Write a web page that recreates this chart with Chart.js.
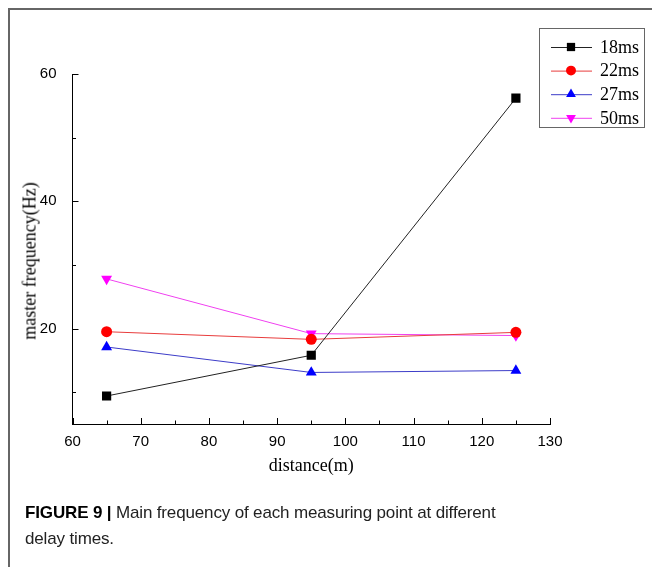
<!DOCTYPE html>
<html>
<head>
<meta charset="utf-8">
<script src="https://cdn.jsdelivr.net/npm/chart.js@4/dist/chart.umd.min.js"></script>
<style>
  html, body { margin: 0; padding: 0; background: #fff; }
  #wrap { position: relative; width: 652px; height: 567px; overflow: hidden; }
  #frame { position: absolute; left: 8px; top: 8px; width: 660px; height: 600px;
           border-top: 2px solid #666; border-left: 2px solid #666; }
  #chart { position: absolute; left: 0; top: 0; }
  #ytitle { position: absolute; left: 30px; top: 261px; width: 0; height: 0; }
  #ytitle span { position: absolute; left: 0; top: 0; white-space: nowrap;
                 transform: translate(-50%, -50%) rotate(-90deg);
                 font-family: "Liberation Serif", "Times New Roman", serif; font-size: 18px; color: #000; }
  #caption { position: absolute; left: 25px; top: 500px; font-family: "Liberation Sans", Arial, sans-serif;
             font-size: 17px; letter-spacing: -0.15px; line-height: 26px; color: #222; }
  #caption b { color: #000; }
</style>
</head>
<body>
<div id="wrap">
  <div id="frame"></div>
  <canvas id="chart" width="652" height="567"></canvas>
  <div id="ytitle"><span>master frequency(Hz)</span></div>
  <div id="caption"><b>FIGURE 9 |</b> Main frequency of each measuring point at different<br>delay times.</div>
</div>
<script>
// data
const distances = [65, 95, 125];
const seriesLabels = ['18ms', '22ms', '27ms', '50ms'];
const freq18 = [9.4, 15.8, 56.2];
const freq22 = [19.5, 18.3, 19.4];
const freq27 = [17.1, 13.1, 13.4];
const freq50 = [27.8, 19.2, 18.9];

const xTickValues = [60, 70, 80, 90, 100, 110, 120, 130];
const xMinorTicks = [65, 75, 85, 95, 105, 115, 125];
const yTickValues = [20, 40, 60];
const yMinorTicks = [10, 30, 50];

const lineColors = ['#222222', '#e83c3c', '#3c3cc8', '#f040f0'];
const pointColors = ['#000000', '#ff0000', '#0000ff', '#ff00ff'];
const pointStyles = ['rect', 'circle', 'triangle', 'triangle'];
const pointRotations = [0, 0, 0, 180];
const pointRadii = [6.5, 5.5, 6.3, 6.3];

function makeSet(i, values) {
  return {
    label: seriesLabels[i],
    data: values.map((v, k) => ({ x: distances[k], y: v })),
    borderColor: lineColors[i],
    borderWidth: 1,
    backgroundColor: pointColors[i],
    pointBackgroundColor: pointColors[i],
    pointBorderColor: pointColors[i],
    pointBorderWidth: 0,
    pointStyle: pointStyles[i],
    pointRotation: pointRotations[i],
    pointRadius: pointRadii[i],
    tension: 0
  };
}

// inward tick marks, like the original plot
const tickPlugin = {
  id: 'inTicks',
  afterDraw(chart) {
    const ctx = chart.ctx;
    const x = chart.scales.x, y = chart.scales.y;
    const area = chart.chartArea;
    ctx.save();
    ctx.strokeStyle = '#000';
    ctx.lineWidth = 1;
    ctx.beginPath();
    xTickValues.forEach(v => {
      const px = Math.round(x.getPixelForValue(v)) + 0.5;
      ctx.moveTo(px, area.bottom); ctx.lineTo(px, area.bottom - 6);
    });
    xMinorTicks.forEach(v => {
      const px = Math.round(x.getPixelForValue(v)) + 0.5;
      ctx.moveTo(px, area.bottom); ctx.lineTo(px, area.bottom - 3.5);
    });
    yTickValues.forEach(v => {
      const py = Math.round(y.getPixelForValue(v)) + 0.5;
      ctx.moveTo(area.left, py); ctx.lineTo(area.left + 6, py);
    });
    yMinorTicks.forEach(v => {
      const py = Math.round(y.getPixelForValue(v)) + 0.5;
      ctx.moveTo(area.left, py); ctx.lineTo(area.left + 3.5, py);
    });
    ctx.stroke();
    ctx.restore();
  }
};

// boxed legend with a line through each marker
const legendPlugin = {
  id: 'boxLegend',
  afterDraw(chart) {
    const ctx = chart.ctx;
    const box = { left: 539.5, top: 28.5, w: 105, h: 99 };
    ctx.save();
    ctx.strokeStyle = '#666';
    ctx.lineWidth = 1;
    ctx.strokeRect(box.left, box.top, box.w, box.h);
    ctx.font = '18px "Liberation Serif", "Times New Roman", serif';
    ctx.textBaseline = 'middle';
    chart.data.datasets.forEach((ds, i) => {
      const cy = 47 + i * 23.6;
      ctx.strokeStyle = ds.borderColor;
      ctx.lineWidth = 1;
      ctx.beginPath();
      ctx.moveTo(551, cy + 0.5); ctx.lineTo(592, cy + 0.5);
      ctx.stroke();
      ctx.fillStyle = ds.pointBackgroundColor;
      ctx.strokeStyle = ds.pointBorderColor;
      Chart.helpers.drawPoint(ctx, {
        pointStyle: ds.pointStyle, rotation: ds.pointRotation,
        radius: ds.pointRadius * 0.9, borderWidth: 0
      }, 571, cy);
      ctx.fillStyle = '#000';
      ctx.fillText(ds.label, 600, cy + 1);
    });
    ctx.restore();
  }
};

new Chart(document.getElementById('chart'), {
  type: 'line',
  data: {
    datasets: [makeSet(0, freq18), makeSet(1, freq22), makeSet(2, freq27), makeSet(3, freq50)]
  },
  options: {
    responsive: false,
    animation: false,
    layout: { padding: { top: 74, right: 102, left: 0, bottom: 0 } },
    plugins: { legend: { display: false }, tooltip: { enabled: false } },
    scales: {
      x: {
        type: 'linear', min: 60, max: 130,
        grid: { display: false },
        border: { display: true, color: '#000', width: 1 },
        afterBuildTicks: s => { s.ticks = xTickValues.map(v => ({ value: v })); },
        afterFit: s => { s.height = 143; },
        ticks: { color: '#000', padding: 1, maxRotation: 0, autoSkip: false,
                 font: { family: '"Liberation Sans", Arial, sans-serif', size: 15 } },
        title: { display: true, text: 'distance(m)', color: '#000',
                 font: { family: '"Liberation Serif", "Times New Roman", serif', size: 18 },
                 padding: { top: 0, bottom: 90 } }
      },
      y: {
        type: 'linear', min: 5, max: 60,
        grid: { display: false },
        border: { display: true, color: '#000', width: 1 },
        afterBuildTicks: s => { s.ticks = yTickValues.map(v => ({ value: v })); },
        afterFit: s => { s.width = 72.5; },
        ticks: { color: '#000', padding: 8,
                 font: { family: '"Liberation Sans", Arial, sans-serif', size: 15 } },
        title: { display: false }
      }
    }
  },
  plugins: [tickPlugin, legendPlugin]
});
</script>
</body>
</html>
